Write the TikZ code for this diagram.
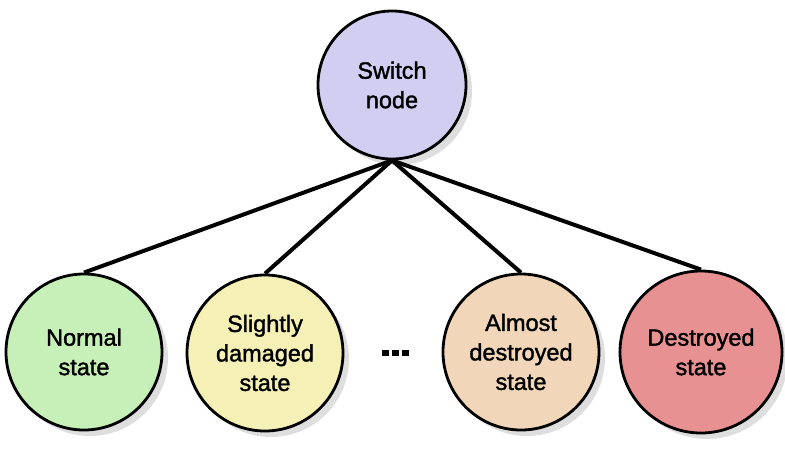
\documentclass[tikz,border=0pt]{standalone}
\usepackage{fontspec}
\setmainfont{Liberation Sans}
\newfontfamily\labelfont{Liberation Sans}[FakeBold=1.5]
\usetikzlibrary{shadows}
\definecolor{cSwitch}{HTML}{D2CEF2}
\definecolor{cNormal}{HTML}{C7EFB8}
\definecolor{cSlight}{HTML}{F5F1B6}
\definecolor{cAlmost}{HTML}{F2D6B9}
\definecolor{cDestroy}{HTML}{E89192}
\definecolor{cShadow}{HTML}{DEDEDE}
\tikzset{
  statenode/.style={circle, draw=black, line width=2.8pt, minimum size=#1,
    inner sep=0pt, align=center,
    font=\labelfont\fontsize{23.5}{29.5}\selectfont,
    drop shadow={shadow xshift=6pt, shadow yshift=-6pt, fill=cShadow, opacity=1}},
  link/.style={line width=4pt, black}
}
\begin{document}
\begin{tikzpicture}[x=1pt,y=-1pt]
\useasboundingbox (0,0) rectangle (785,448);
\node[statenode=148pt, fill=cSwitch] (sw) at (392,85) {Switch\\node};
\node[statenode=156pt, fill=cNormal] (normal) at (84,352) {Normal\\state};
\node[statenode=156pt, fill=cSlight] (slight) at (265,353) {Slightly\\damaged\\state};
\node[statenode=156pt, fill=cAlmost] (almost) at (521,352) {Almost\\destroyed\\state};
\node[statenode=162pt, fill=cDestroy] (destroy) at (701,352) {Destroyed\\state};
\node[inner sep=0pt] (dots) at (395.5,353) {\rule{7pt}{6pt}\hspace{3pt}\rule{7pt}{6pt}\hspace{3pt}\rule{7pt}{6pt}};
\draw[link] (sw.south) -- (normal.north);
\draw[link] (sw.south) -- (slight.north);
\draw[link] (sw.south) -- (almost.north);
\draw[link] (sw.south) -- (destroy.north);
\end{tikzpicture}
\end{document}
